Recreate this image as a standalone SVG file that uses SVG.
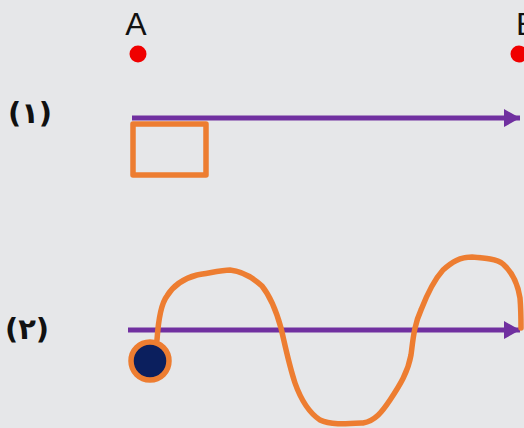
<svg xmlns="http://www.w3.org/2000/svg" width="524" height="428" viewBox="0 0 524 428">
<style>
.lbl{font-family:"Liberation Sans",Arial,sans-serif;font-size:32px;fill:#111}
.num{font-family:"DejaVu Sans","Noto Sans",sans-serif;font-size:29px;font-weight:bold;fill:#111}
.pt{fill:#f00000}
.ax{stroke:#7030a0;stroke-width:5;fill:none}
.or{stroke:#ed7d31;stroke-width:5.5;fill:none;stroke-linejoin:round;stroke-linecap:round}
</style>
<defs>
<marker id="ar" markerUnits="userSpaceOnUse" markerWidth="18" markerHeight="18" refX="16" refY="9" orient="auto">
<path d="M0,0 L16,9 L0,18 Z" fill="#7030a0"/>
</marker>
</defs>
<rect width="524" height="428" fill="#e6e7e9"/>
<g id="pointA"><text class="lbl" x="136" y="35" text-anchor="middle">A</text><circle class="pt" cx="138" cy="54" r="8.5"/></g>
<g id="pointB"><text class="lbl" x="516" y="35">B</text><circle class="pt" cx="519" cy="54" r="8.5"/></g>
<g id="label1"><text class="num" x="30" y="123" text-anchor="middle">(۱)</text></g>
<g id="label2"><text class="num" x="27" y="339" text-anchor="middle">(۲)</text></g>
<g id="connectors">
<line class="ax" x1="132" y1="118" x2="520" y2="118" marker-end="url(#ar)"/>
<line class="ax" x1="128" y1="330" x2="520" y2="330" marker-end="url(#ar)"/>
</g>
<g id="box"><rect class="or" x="133" y="124" width="73" height="51" stroke-linejoin="miter" stroke-linecap="butt"/></g>
<g id="wave"><path class="or" d="M157,340 C158,325 160,305 167,296 C173,286 182,279 197,275 C210,273 222,270 230,270 C240,271 250,275 262,286 C270,296 276,310 281,328 C285,345 289,365 295,383 C301,400 308,412 320,420 C330,425 345,424 363,423 C375,421 382,412 390,400 C400,385 408,372 411,355 C413,340 414,325 421,310 C428,292 434,280 443,270 C452,262 460,257 472,257 C485,258 497,259 503,264 C512,272 518,285 520,298 C521,310 521,320 521,328"/></g>
<g id="ball"><circle cx="150" cy="361" r="19" fill="#0b1f5e" stroke="#ed7d31" stroke-width="5.5"/></g>
</svg>
